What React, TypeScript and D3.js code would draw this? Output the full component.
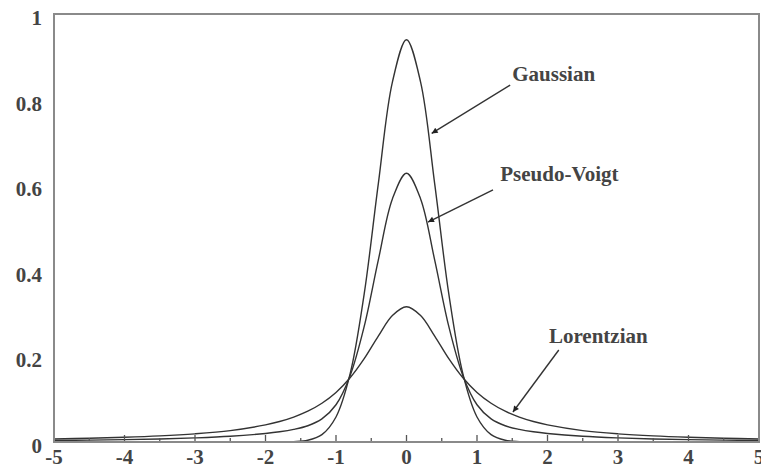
import React from "react";
import * as d3 from "d3";

// x positions (symmetric sampling)
const xs: number[] = [-5, -4.5, -4, -3.5, -3, -2.5, -2, -1.8, -1.6, -1.4, -1.2, -1, -0.8, -0.6, -0.4, -0.2, 0,
  0.2, 0.4, 0.6, 0.8, 1, 1.2, 1.4, 1.6, 1.8, 2, 2.5, 3, 3.5, 4, 4.5, 5];
const gaussian: number[] = [0, 0, 0, 0, 0, 0, 0, 0.0001, 0.0008, 0.0041, 0.0172, 0.0585, 0.159, 0.346, 0.603, 0.841, 0.94,
  0.841, 0.603, 0.346, 0.159, 0.0585, 0.0172, 0.0041, 0.0008, 0.0001, 0, 0, 0, 0, 0, 0, 0];
const pseudoVoigt: number[] = [0.0036, 0.0044, 0.0055, 0.0071, 0.0096, 0.0134, 0.02, 0.0239, 0.0295, 0.038, 0.0539, 0.087, 0.155, 0.27, 0.425, 0.568, 0.628,
  0.568, 0.425, 0.27, 0.155, 0.087, 0.0539, 0.038, 0.0295, 0.0239, 0.02, 0.0134, 0.0096, 0.0071, 0.0055, 0.0044, 0.0036];
const lorentzian: number[] = [0.0071, 0.0088, 0.011, 0.0142, 0.0191, 0.0267, 0.0399, 0.0478, 0.0582, 0.0719, 0.0905, 0.1157, 0.15, 0.1947, 0.2475, 0.2955, 0.316,
  0.2955, 0.2475, 0.1947, 0.15, 0.1157, 0.0905, 0.0719, 0.0582, 0.0478, 0.0399, 0.0267, 0.0191, 0.0142, 0.011, 0.0088, 0.0071];
const xTicks: number[] = [-5, -4, -3, -2, -1, 0, 1, 2, 3, 4, 5];
const xMinorTicks: number[] = [-4.5, -3.5, -2.5, -1.5, -0.5, 0.5, 1.5, 2.5, 3.5, 4.5];
const yTicks: number[] = [0, 0.2, 0.4, 0.6, 0.8, 1];
const labels: { text: string; lx: number; ly: number; from: [number, number]; to: [number, number] }[] = [
  { text: "Gaussian", lx: 1.5, ly: 0.843, from: [1.47, 0.834], to: [0.357, 0.721] },
  { text: "Pseudo-Voigt", lx: 1.33, ly: 0.61, from: [1.227, 0.589], to: [0.305, 0.514] },
  { text: "Lorentzian", lx: 2.02, ly: 0.231, from: [2.16, 0.215], to: [1.51, 0.07] },
];

const W = 761, H = 473;
const L = 54, R = 759, T = 14, B = 442;

export default function App() {
  const x = d3.scaleLinear().domain([-5, 5]).range([L, R]);
  const y = d3.scaleLinear().domain([0, 1]).range([B, T]);
  const line = d3.line<number>().x((_, i) => x(xs[i])).y((d) => y(d)).curve(d3.curveCatmullRom.alpha(0.5));
  const series = [gaussian, pseudoVoigt, lorentzian];
  const font = "'Liberation Serif', 'DejaVu Serif', serif";
  return (
    <svg width={W} height={H} style={{ position: "absolute", left: 0, top: 0, background: "#fff" }}>
      <defs>
        <marker id="ah" viewBox="0 0 10 10" refX="10" refY="5" markerWidth="10" markerHeight="6" orient="auto" markerUnits="userSpaceOnUse">
          <path d="M0,0 L10,5 L0,10 z" fill="#222" />
        </marker>
      </defs>
      {series.map((s, i) => (
        <path key={i} d={line(s) || ""} fill="none" stroke="#333" strokeWidth={1.4} />
      ))}
      {xTicks.map((t) => (
        <line key={"M" + t} x1={x(t)} x2={x(t)} y1={B} y2={B - 7} stroke="#555" strokeWidth={1.3} />
      ))}
      {xMinorTicks.map((t) => (
        <line key={"m" + t} x1={x(t)} x2={x(t)} y1={B} y2={B - 4} stroke="#555" strokeWidth={1.3} />
      ))}
      <rect x={L} y={T} width={R - L} height={B - T} fill="none" stroke="#8a8a8a" strokeWidth={2} />
      {xTicks.map((t) => (
        <text key={"xl" + t} x={x(t)} y={464} textAnchor="middle" fontFamily={font} fontSize={21} fontWeight={700} fill="#444">
          {String(t)}
        </text>
      ))}
      {yTicks.map((t) => (
        <text key={"yl" + t} x={42} y={y(t) + 11} textAnchor="end" fontFamily={font} fontSize={21} fontWeight={700} fill="#444">
          {String(t)}
        </text>
      ))}
      {labels.map((a) => (
        <g key={a.text}>
          <line x1={x(a.from[0])} y1={y(a.from[1])} x2={x(a.to[0])} y2={y(a.to[1])} stroke="#333" strokeWidth={1.4} markerEnd="url(#ah)" />
          <text x={x(a.lx)} y={y(a.ly)} fontFamily={font} fontSize={21} fontWeight={700} fill="#444">{a.text}</text>
        </g>
      ))}
    </svg>
  );
}
